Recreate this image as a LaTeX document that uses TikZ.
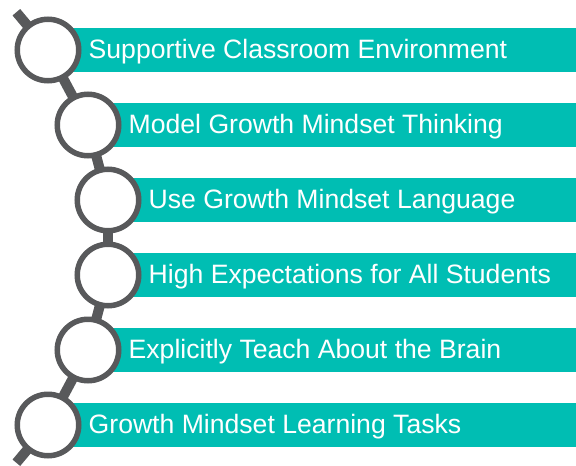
\documentclass[tikz,border=0pt]{standalone}
\usepackage{fontspec}
\setmainfont{Liberation Sans}
\usepackage{tikz}
\usetikzlibrary{positioning}
\definecolor{barteal}{RGB}{0,190,179}
\definecolor{ringgrey}{RGB}{88,89,91}
\tikzstyle{edge}=[
	-,
	draw=ringgrey,
	line width=10pt,
	shorten <=-1pt,
	shorten >=-1pt
]
\tikzstyle{ring}=[
	circle,
	draw=ringgrey,
	line width=5.5pt,
	fill=white,
	minimum size=61.5pt,
	inner sep=0pt
]
\tikzstyle{bar}=[
	rectangle,
	fill=barteal,
	minimum height=44pt,
	inner sep=0pt,
	anchor=west
]
\tikzstyle{caption}=[
	text=white,
	font=\fontsize{26.6}{30}\selectfont,
	inner sep=0pt,
	text height=20pt,
	text depth=4pt,
	node distance=7pt
]

\begin{document}
\begin{tikzpicture}[x=1pt, y=-1pt]
\useasboundingbox (0,0) rectangle (576,466);

\foreach \i/\x [evaluate=\i as \y using {50+75*(\i-1)}, evaluate=\x as \w using {576-\x}] in {1/48,2/88,3/108,4/108,5/88,6/48} {
    \node[bar, minimum width=\w pt] (b\i) at (\x,\y) {};
}

\foreach \i/\x [evaluate=\i as \y using {50+75*(\i-1)}] in {1/48,2/88,3/108,4/108,5/88,6/48} {
    \node[ring] (c\i) at (\x,\y) {};
}

\coordinate (top) at (17,13);
\coordinate (bottom) at (17,462);

\draw[edge] (top) to (c1);
\foreach \i [evaluate=\i as \j using int(\i+1)] in {1,...,5} {
    \draw[edge] (c\i) to (c\j);
}
\draw[edge] (c6) to (bottom);

\node[caption, right=of c1] (t1) {Supportive Classroom Environment};
\node[caption, right=of c2] (t2) {Model Growth Mindset Thinking};
\node[caption, right=of c3] (t3) {Use Growth Mindset Language};
\node[caption, right=of c4] (t4) {High Expectations for All Students};
\node[caption, right=of c5] (t5) {Explicitly Teach About the Brain};
\node[caption, right=of c6] (t6) {Growth Mindset Learning Tasks};

\end{tikzpicture}
\end{document}
